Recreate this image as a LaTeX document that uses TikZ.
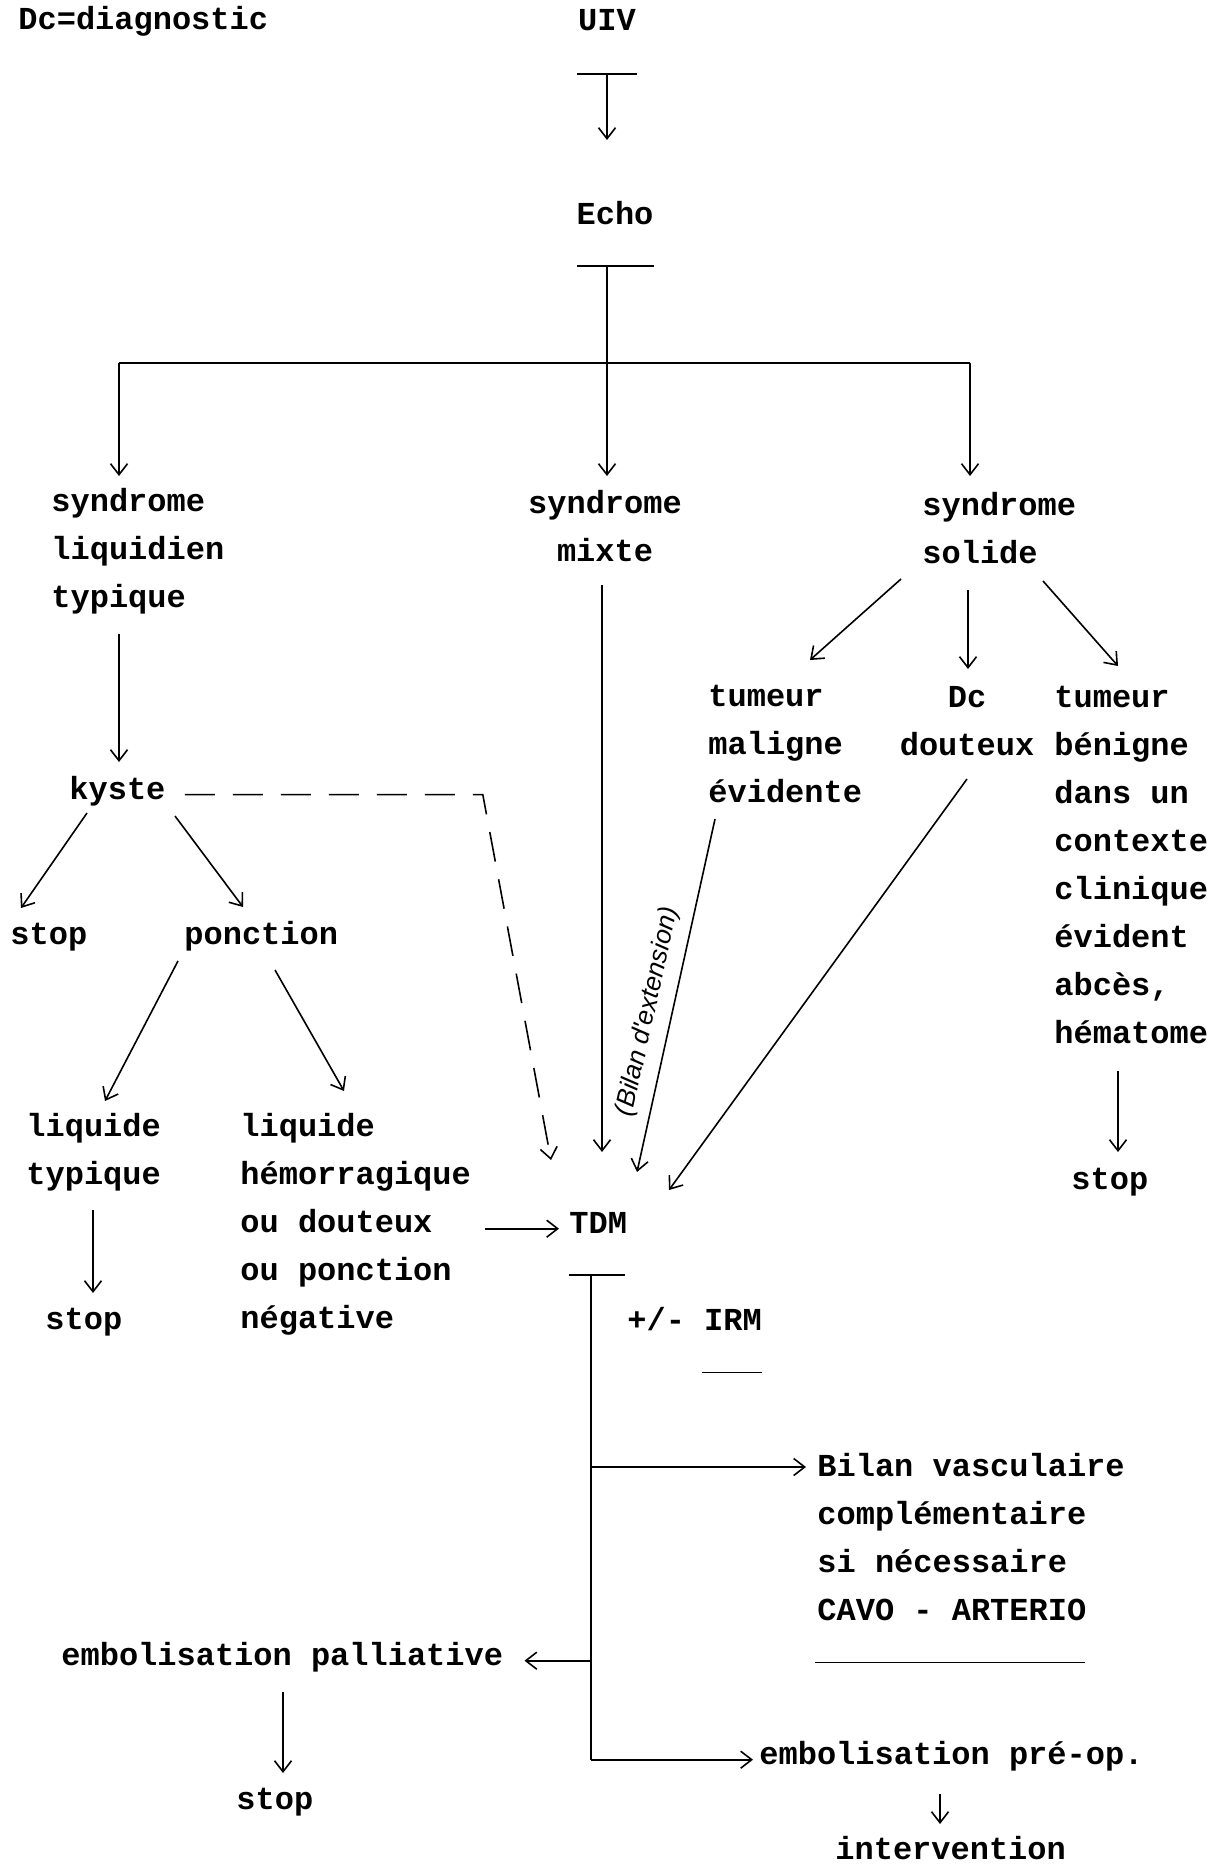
\documentclass[tikz,border=0pt]{standalone}
\usepackage{fontspec}
\setmonofont{Liberation Mono}
\newfontfamily\handfont{Liberation Sans}
\usetikzlibrary{arrows.meta,calc}

\begin{document}
\begin{tikzpicture}[x=0.5pt,y=-0.5pt,
  txt/.style={inner sep=0pt,anchor=base west,align=left,font=\ttfamily\bfseries\fontsize{16}{24}\selectfont},
  ctxt/.style={txt,anchor=base,align=center},
  arr/.style={-{Straight Barb[length=5.5pt,width=8.5pt]},line width=0.8pt},
  bus/.style={line width=1.2pt}]
\useasboundingbox (0,0) rectangle (1210,1866);
\node[txt] (dc) at (18,30) {Dc=diagnostic};
\node[ctxt] (uiv) at (607,31) {UIV};
\node[ctxt] (echo) at (615,225) {Echo};
\node[txt] (liq) at (51,607) {syndrome\\liquidien\\typique};
\node[ctxt] (mixte) at (605,561) {syndrome\\mixte};
\node[txt] (solide) at (922,563) {syndrome\\solide};
\node[txt] (kyste) at (69,799) {kyste};
\node[txt] (stopA) at (10,944) {stop};
\node[txt] (ponction) at (184,944) {ponction};
\node[txt] (liqtyp) at (26,1184) {liquide\\typique};
\node[txt] (hemo) at (240,1328) {liquide\\hémorragique\\ou douteux\\ou ponction\\négative};
\node[txt] (stopB) at (45,1329) {stop};
\node[txt] (maligne) at (708,802) {tumeur\\maligne\\évidente};
\node[ctxt] (douteux) at (967,755) {Dc\\douteux};
\node[txt] (benigne) at (1054,1043) {tumeur\\bénigne\\dans un\\contexte\\clinique\\évident\\abcès,\\hématome};
\node[txt] (stopD) at (1071,1189) {stop};
\node[txt] (tdm) at (569,1233) {TDM};
\node[txt] (irm) at (627,1330) {+/- IRM};
\node[txt] (bilan) at (817,1620) {Bilan vasculaire\\complémentaire\\si nécessaire\\CAVO - ARTERIO};
\node[txt] (palliative) at (61,1665) {embolisation palliative};
\node[txt] (stopC) at (236,1809) {stop};
\node[txt] (preop) at (759,1764) {embolisation pré-op.};
\node[txt] (interv) at (835,1859) {intervention};

% UIV and Echo
\coordinate (uivT) at ($(uiv.base)+(0,43)$);
\draw[bus] ($(uivT)+(-30,0)$) -- ($(uivT)+(30,0)$);
\draw[arr] (uivT) -- ($(echo.base)+(-8,-85)$);
\coordinate (echoT) at ($(echo.base)+(-8,41)$);
\draw[bus] ($(echoT)+(-30,0)$) -- ($(echoT)+(47,0)$);
\coordinate (busM) at ($(echoT)+(0,97)$);
\coordinate (busL) at ($(liq.base west)+(68,-244)$);
\coordinate (busR) at ($(solide.base west)+(48,-200)$);
\draw[bus] (echoT) -- (busM);
\draw[bus] (busL) -- (busR);
\draw[arr] (busL) -- ($(liq.base west)+(68,-131)$);
\draw[arr] (busM) -- ($(mixte.base)+(2,-85)$);
\draw[arr] (busR) -- ($(solide.base west)+(48,-87)$);

% liquidien
\draw[arr] ($(liq.base west)+(68,27)$) -- ($(kyste.base west)+(50,-37)$);
\draw[arr,dash pattern=on 15pt off 9pt] ($(kyste.mid east)+(19,0)$) -- ($(kyste.mid east)+(317,0)$) -- ($(tdm.base west)+(-18,-73)$);
\draw[arr] ($(kyste.base west)+(18,14)$) -- ($(stopA.base west)+(11,-36)$);
\draw[arr] ($(kyste.base west)+(106,17)$) -- ($(ponction.base west)+(59,-37)$);
\draw[arr] ($(ponction.base west)+(-6,17)$) -- ($(liqtyp.base west)+(79,-83)$);
\draw[arr] ($(ponction.base west)+(91,26)$) -- ($(hemo.base west)+(104,-237)$);
\draw[arr] ($(liqtyp.base west)+(67,26)$) -- ($(stopB.base west)+(48,-36)$);
\draw[arr] ($(hemo.east |- tdm.mid west)+(14,0)$) -- ($(tdm.mid west)+(-10,0)$);

% mixte and solide
\draw[arr] ($(mixte.base)+(-3,24)$) -- ($(tdm.base west)+(33,-81)$);
\draw[arr] ($(solide.base west)+(-21,16)$) -- ($(maligne.base west)+(102,-142)$);
\draw[arr] ($(solide.base west)+(46,27)$) -- ($(douteux.base)+(1,-86)$);
\draw[arr] ($(solide.base west)+(121,18)$) -- ($(benigne.base west)+(64,-377)$);
\draw[arr] ($(maligne.base west)+(7,17)$) -- node[pos=0.56,sloped,above=2pt,font=\handfont\itshape\fontsize{13}{13}\selectfont] (ext) {(Bilan d'extension)} ($(tdm.base west)+(68,-61)$);
\draw[arr] ($(douteux.base)+(0,24)$) -- ($(tdm.base west)+(100,-43)$);
\draw[arr] ($(benigne.base west)+(64,28)$) -- ($(stopD.base west)+(47,-37)$);

% TDM
\coordinate (tdmT) at ($(tdm.base west)+(22,42)$);
\draw[bus] ($(tdm.base west)+(0,42)$) -- ($(tdm.base west)+(56,42)$);
\draw[bus] (tdmT) -- (tdmT |- preop.mid west);
\draw ($(irm.base west)+(75,42)$) -- ($(irm.base west)+(135,42)$);
\coordinate (bilanA) at ($(bilan.base west)+(-11,-153)$);
\draw[arr] (tdmT |- bilanA) -- (bilanA);
\draw ($(bilan.base west)+(-2,42)$) -- ($(bilan.base west)+(268,42)$);
\coordinate (pallA) at ($(palliative.mid east)+(21,0)$);
\draw[arr] (tdmT |- pallA) -- (pallA);
\draw[arr] (tdmT |- preop.mid west) -- ($(preop.mid west)+(-6,0)$);
\draw[arr] ($(palliative.base west)+(222,27)$) -- ($(stopC.base west)+(47,-36)$);
\draw[arr] ($(preop.base west)+(181,30)$) -- ($(interv.base west)+(105,-35)$);
\end{tikzpicture}
\end{document}
